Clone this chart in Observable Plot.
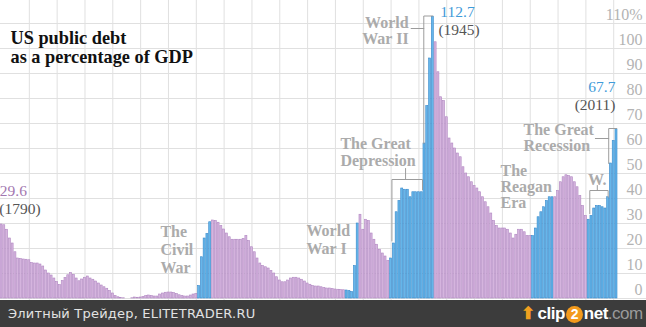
<!DOCTYPE html>
<html><head><meta charset="utf-8">
<script src="https://cdn.jsdelivr.net/npm/d3@7"></script>
<script src="https://cdn.jsdelivr.net/npm/@observablehq/plot@0.6"></script>
<style>
html,body{margin:0;padding:0;background:#fff;}
#wrap{width:646px;height:327px;position:relative;overflow:hidden;background:#fff;}
#chart svg{display:block;}
#foot{position:absolute;left:0;top:300px;width:646px;height:27px;background:#3c3c3c;}
#foot .src{position:absolute;left:8px;top:6px;font:13px "DejaVu Sans",sans-serif;color:#e2e2e2;letter-spacing:0.2px;}
#foot .logo{position:absolute;left:521px;top:3px;font:bold 17px "Liberation Sans",Arial,sans-serif;color:#fff;white-space:nowrap;letter-spacing:-0.5px;}
#foot .logo .arrow{display:inline-block;color:#f0a020;font-size:17px;margin-right:3px;}
#foot .logo .two{display:inline-block;width:17px;height:17px;border-radius:50%;background:#f39a1c;color:#fff;text-align:center;line-height:17px;font-size:14px;margin:0 1px;}
#foot .logo .com{color:#9a9a9a;font-weight:normal;}
</style></head><body>
<div id="wrap"><div id="chart"></div>
<div id="foot"><span class="src">Элитный Трейдер, ELITETRADER.RU</span><span class="logo"><span class="arrow">&#x2B06;</span>clip<span class="two">2</span>net<span class="com">.com</span></span></div>
</div>
<script>
// US public debt as % of GDP, one value per year, 1790 onward
const firstYear = 1790;
const debt1790to1829 = [29.6,29.3,27.5,24,22,18.5,16,15.8,15.6,15.5,15.3,14.2,14,14,13.6,12.8,11.2,10,9.2,8,6.6,5.4,7,8.2,9.3,10.2,9.4,8,6.9,7.6,8.3,8.8,8,7.5,6.8,6,5.2,4.5,3.9,3];
const debt1830to1869 = [2,1,0.5,0.2,0.1,0,0,0.1,0.4,0.3,0.4,0.6,1,1.2,1,0.8,0.8,1.6,2,2.3,2.4,2.4,2.2,1.8,1.3,1,0.8,0.8,1.2,1.6,1.8,5,16.5,24,25.8,30.5,31.2,31,30.3,29];
const debt1870to1909 = [27.6,26,24.5,23.5,23.5,23.5,23.5,23.8,25,23,20.5,18.5,16,14,13,12.5,12,11,10,8.5,7.2,6.5,6.5,7.2,8,8.3,8.3,8,7.5,6.8,6,5.5,5,4.8,4.8,4.5,4.2,4,4,3.8];
const debt1910to1949 = [3.6,3.5,3.4,3.3,3.2,3,2.6,13,30,33.5,27.5,31.5,31,26,23.5,21.5,19.5,18,16.8,15,16,22,34.5,39,44,43.5,43.5,40.5,42.5,42.5,42.5,42.5,62,77,96,112.7,102.5,90.5,80.5,79];
const debt1950to1989 = [72.5,64,62,60,58,56.5,52.5,50,48.5,46.5,45,44,42.5,40.5,38.5,36.5,34,31,29,28,28,28,27.5,26,24,25.5,27.5,27.5,26.5,25,25,25,28,32.5,34.5,36.5,39,40.5,40.5,40.5];
const debt1990to2011 = [43,46.5,48.5,49.3,49,48.5,46.5,44.5,41,37,33,31.5,33,36,37,37,36.5,36,40.5,54,63,67.7];
// periods drawn in blue (war / crisis eras)
const blueEras = [[1861,1865],[1914,1918],[1930,1945],[1981,1988],[2001,2011]];
const yTicks = [0,10,20,30,40,50,60,70,80,90,100,110];
const gridYears = d3.range(1800, 2020, 10);
const gridPcts = d3.range(0, 130, 10);

const values = [].concat(debt1790to1829, debt1830to1869, debt1870to1909, debt1910to1949, debt1950to1989, debt1990to2011);
const data = values.map((v, i) => {
  const year = firstYear + i;
  return {year, pct: v, blue: blueEras.some(([a, b]) => year >= a && year <= b)};
});

// annotation brackets, in (year, percent) units
const brackets = [
  {id:"dep", pts:[[1930.3,23],[1930.3,47.6],[1941.3,47.6],[1941.3,43.5]]},
  {id:"depTick", pts:[[1935.2,47.6],[1935.2,52]]},
  {id:"ww2", pts:[[1941.75,62],[1941.75,113],[1945,113]]},
  {id:"ww2Tick", pts:[[1937.2,108],[1941.75,108]]},
  {id:"rec", pts:[[2008.2,54],[2008.2,68],[2011,68]]},
  {id:"recTick", pts:[[2003.4,64],[2008.2,64]]},
  {id:"w", pts:[[2001.4,33.9],[2001.4,43.2],[2008,43.2],[2008,40.5]]},
  {id:"wTick", pts:[[2004.1,43.2],[2004.1,45.2]]}
];
const bracketRows = brackets.flatMap(b => b.pts.map(([year, pct]) => ({id: b.id, year, pct})));

const gray = "#ababab", dark = "#555555", blueTxt = "#3f9bd9", purpleTxt = "#a277b0";
const serif = "Liberation Serif, Times New Roman, serif";
const labels = [
  {t:"29.6", year:1789.4, pct:41.2, anchor:"start", fill:purpleTxt, size:15.5, weight:"normal", lh:1},
  {t:"(1790)", year:1789.2, pct:34, anchor:"start", fill:dark, size:15.5, weight:"normal", lh:1},
  {t:"The\nCivil\nWar", year:1847.1, pct:10.4, anchor:"start", fill:gray, size:16, weight:"bold", lh:1.125},
  {t:"World\nWar I", year:1899.6, pct:18, anchor:"start", fill:gray, size:16, weight:"bold", lh:1.125},
  {t:"The Great\nDepression", year:1911.8, pct:53.2, anchor:"start", fill:gray, size:16, weight:"bold", lh:1.06},
  {t:"World\nWar II", year:1936.3, pct:102, anchor:"end", fill:gray, size:16, weight:"bold", lh:1.0},
  {t:"112.7", year:1947.7, pct:112.6, anchor:"start", fill:blueTxt, size:15.5, weight:"normal", lh:1},
  {t:"(1945)", year:1947, pct:105.4, anchor:"start", fill:dark, size:15.5, weight:"normal", lh:1},
  {t:"The\nReagan\nEra", year:1969.3, pct:36.4, anchor:"start", fill:gray, size:16, weight:"bold", lh:0.97},
  {t:"The Great\nRecession", year:1977.6, pct:59.2, anchor:"start", fill:gray, size:16, weight:"bold", lh:0.97},
  {t:"W.", year:2004.1, pct:45.6, anchor:"middle", fill:gray, size:16, weight:"bold", lh:1},
  {t:"67.7", year:2010.6, pct:82.8, anchor:"end", fill:blueTxt, size:15.5, weight:"normal", lh:1},
  {t:"(2011)", year:2010.6, pct:75.6, anchor:"end", fill:dark, size:15.5, weight:"normal", lh:1}
];

const chart = Plot.plot({
  width: 646, height: 300,
  marginTop: 0, marginRight: 0, marginBottom: 0, marginLeft: 0,
  style: {background: "transparent", fontFamily: serif, overflow: "visible"},
  x: {type: "linear", domain: [1790, 2011], range: [1, 616], axis: null},
  y: {domain: [0, 110], range: [298, 23], axis: null},
  marks: [
    Plot.ruleX(gridYears, {stroke: "#e0e0e0", strokeWidth: 1}),
    Plot.ruleY(gridPcts, {stroke: "#e0e0e0", strokeWidth: 1}),
    Plot.text(["US public debt\nas a percentage of GDP"], {frameAnchor: "top-left", dx: 10, dy: 30, lineAnchor: "top", lineHeight: 1.05, textAnchor: "start", fontSize: 18.3, fontWeight: "bold", fill: "#111"}),
    Plot.rectY(data, {x1: d => d.year - 0.36, x2: d => d.year + 0.36, y: "pct",
      fill: d => d.blue ? "#66b6ea" : "#d5b4de",
      stroke: d => d.blue ? "#3789cb" : "#b086c1", strokeWidth: 0.6}),
    Plot.line(bracketRows, {x: "year", y: "pct", z: "id", stroke: "#9c9c9c", strokeWidth: 1}),
    ...labels.map(l => Plot.text([l], {x: "year", y: "pct", text: "t", textAnchor: l.anchor, lineAnchor: "bottom", lineHeight: l.lh, fontSize: l.size, fontWeight: l.weight, fill: l.fill})),
    Plot.text(yTicks, {y: d => d, text: d => d === 110 ? "110%" : String(d), frameAnchor: "right", dx: -4, dy: -4, lineAnchor: "bottom", textAnchor: "end", fontSize: 16, fill: "#b3b3b3"})
  ]
});
document.getElementById("chart").appendChild(chart);
</script>
</body></html>
